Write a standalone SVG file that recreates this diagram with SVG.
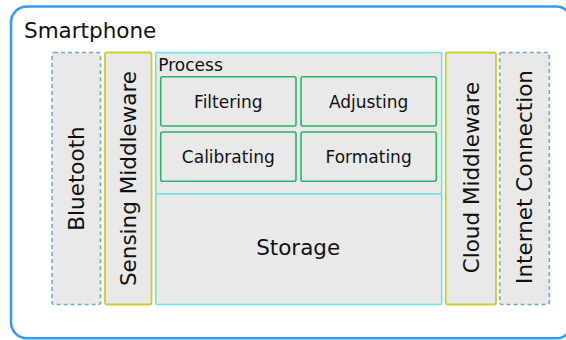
<svg xmlns="http://www.w3.org/2000/svg" width="566" height="340" viewBox="0 0 566 340">
<style>
text{font-family:"DejaVu Sans","Liberation Sans",sans-serif;fill:#111}
.big{font-size:21.5px}
.small{font-size:17px}
.dash{fill:#e9e9e9;stroke:#6fa8dc;stroke-width:1.6;stroke-dasharray:4,3}
.mw{fill:#e9e9e9;stroke:#cccc33;stroke-width:1.8}
.cy{fill:#e9e9e9;stroke:#6fe0e6;stroke-width:1.6}
.gr{fill:#e9e9e9;stroke:#2db36b;stroke-width:1.6}
</style>
<rect width="566" height="340" fill="#fff"/>
<g id="smartphone">
<rect x="11" y="6.5" width="561" height="331.8" rx="16" fill="#fff" stroke="#3399ff" stroke-width="2.5"/>
<text class="big" x="24" y="38">Smartphone</text>
</g>
<g id="bluetooth">
<rect class="dash" x="52" y="52.5" width="48.5" height="252" rx="2"/>
<text class="big" text-anchor="middle" transform="translate(84.3,178.5) rotate(-90)">Bluetooth</text>
</g>
<g id="sensing">
<rect class="mw" x="105" y="52.5" width="46.5" height="252" rx="2"/>
<text class="big" text-anchor="middle" transform="translate(135.5,178.5) rotate(-90)">Sensing Middleware</text>
</g>
<g id="process">
<rect class="cy" x="155.7" y="52.5" width="286" height="141.5" rx="1.5"/>
<text class="small" x="158.3" y="71">Process</text>
</g>
<g id="filtering">
<rect class="gr" x="160.7" y="76.7" width="135.3" height="49.3" rx="2"/>
<text class="small" text-anchor="middle" x="228.3" y="108">Filtering</text>
</g>
<g id="adjusting">
<rect class="gr" x="301" y="76.7" width="135.3" height="49.3" rx="2"/>
<text class="small" text-anchor="middle" x="368.6" y="108">Adjusting</text>
</g>
<g id="calibrating">
<rect class="gr" x="160.7" y="132" width="135.3" height="49.3" rx="2"/>
<text class="small" text-anchor="middle" x="228.3" y="163">Calibrating</text>
</g>
<g id="formating">
<rect class="gr" x="301" y="132" width="135.3" height="49.3" rx="2"/>
<text class="small" text-anchor="middle" x="368.6" y="163">Formating</text>
</g>
<g id="storage">
<rect class="cy" x="155.7" y="194" width="286" height="110.5" rx="1.5"/>
<text class="big" text-anchor="middle" x="298.2" y="254.5">Storage</text>
</g>
<g id="cloud">
<rect class="mw" x="445.7" y="52.5" width="50.3" height="252" rx="2"/>
<text class="big" text-anchor="middle" transform="translate(478.8,177.5) rotate(-90)">Cloud Middleware</text>
</g>
<g id="internet">
<rect class="dash" x="499.7" y="52.5" width="49.6" height="252" rx="2"/>
<text class="big" text-anchor="middle" transform="translate(532.3,177) rotate(-90)">Internet Connection</text>
</g>
<g id="connectors"></g>
</svg>
